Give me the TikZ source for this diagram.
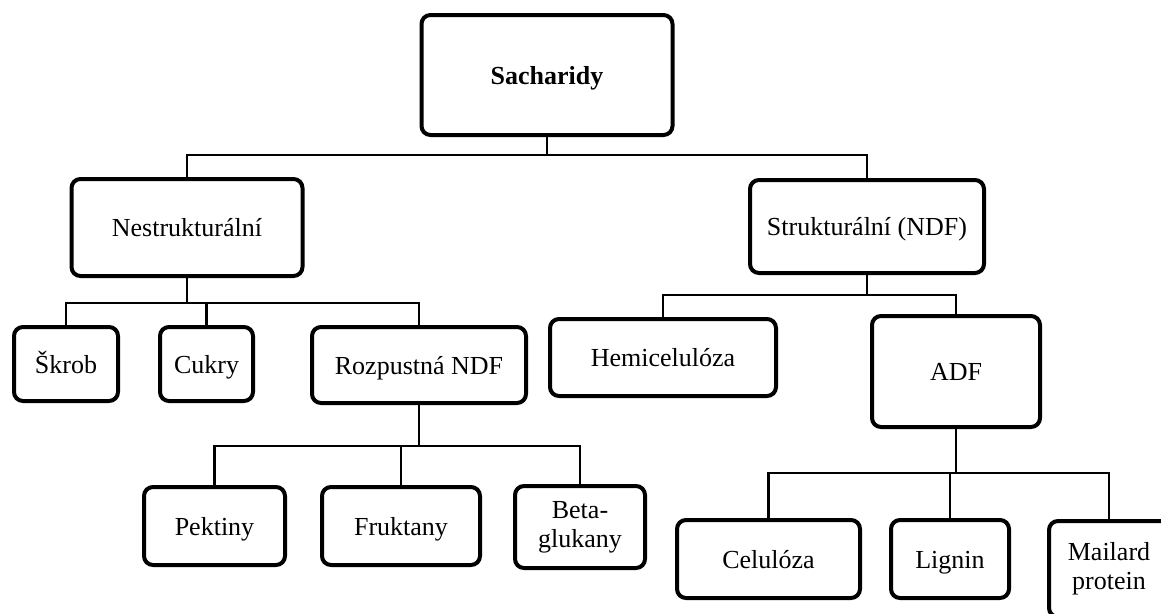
\documentclass[tikz,border=0pt]{standalone}
\usepackage{fontspec}
\setmainfont{Liberation Serif}
\begin{document}
\begin{tikzpicture}[x=1pt, y=-1pt,
    box/.style={draw, line width=4pt, rounded corners=9pt, fill=white, align=center,
        inner sep=0pt, text height=20pt, text depth=2pt, font=\fontsize{26}{29}\selectfont},
    twoline/.style={text height=, text depth=},
    link/.style={line width=2.5pt}]
    \useasboundingbox (0,0) rectangle (1161,613);

    % Top level
    \node[box, minimum width=251pt, minimum height=120pt,
        font=\fontsize{26}{29}\selectfont\bfseries] (sach) at (547,75) {Sacharidy};

    % Second level
    \node[box, minimum width=231pt, minimum height=97pt] (nestr) at (187,227.5) {Nestrukturální};
    \node[box, minimum width=234pt, minimum height=93pt] (strukt) at (867,226.5) {Strukturální (NDF)};

    % Nestructural children
    \node[box, minimum width=104pt, minimum height=74pt] (skrob) at (66,364) {Škrob};
    \node[box, minimum width=93pt, minimum height=74pt] (cukry) at (206.5,364) {Cukry};
    \node[box, minimum width=214pt, minimum height=76pt] (rozp) at (419,365) {Rozpustná NDF};

    % Structural children
    \node[box, minimum width=226pt, minimum height=77pt] (hemi) at (663,357.5) {Hemicelulóza};
    \node[box, minimum width=168pt, minimum height=111pt] (adf) at (956,371.5) {ADF};

    % Soluble NDF children
    \node[box, minimum width=141pt, minimum height=78pt] (pekt) at (214.5,526) {Pektiny};
    \node[box, minimum width=158pt, minimum height=78pt] (frukt) at (401,526) {Fruktany};
    \node[box, twoline, minimum width=130pt, minimum height=82pt] (beta) at (580,527) {Beta-\\glukany};

    % ADF children
    \node[box, minimum width=183pt, minimum height=78pt] (celu) at (768.5,559) {Celulóza};
    \node[box, minimum width=118pt, minimum height=78pt] (lign) at (950,559) {Lignin};
    \node[box, twoline, minimum width=120pt, minimum height=96pt] (mail) at (1109,569) {Mailard\\protein};

    % Connectors
    \draw[link] (sach.south) -- (547,155) coordinate (b1);
    \draw[link] (nestr.north) |- (b1) -| (strukt.north);

    \draw[link] (nestr.south) -- (187,303) coordinate (b2);
    \draw[link] (skrob.north) |- (b2) -| (rozp.north);
    \draw[link] (cukry.north) -- (cukry.north |- b2);

    \draw[link] (strukt.south) -- (867,295) coordinate (b3);
    \draw[link] (hemi.north) |- (b3) -| (adf.north);

    \draw[link] (rozp.south) -- (419,446) coordinate (b4);
    \draw[link] (pekt.north) |- (b4) -| (beta.north);
    \draw[link] (frukt.north) -- (frukt.north |- b4);

    \draw[link] (adf.south) -- (956,473) coordinate (b5);
    \draw[link] (celu.north) |- (b5) -| (mail.north);
    \draw[link] (lign.north) -- (lign.north |- b5);
\end{tikzpicture}
\end{document}
